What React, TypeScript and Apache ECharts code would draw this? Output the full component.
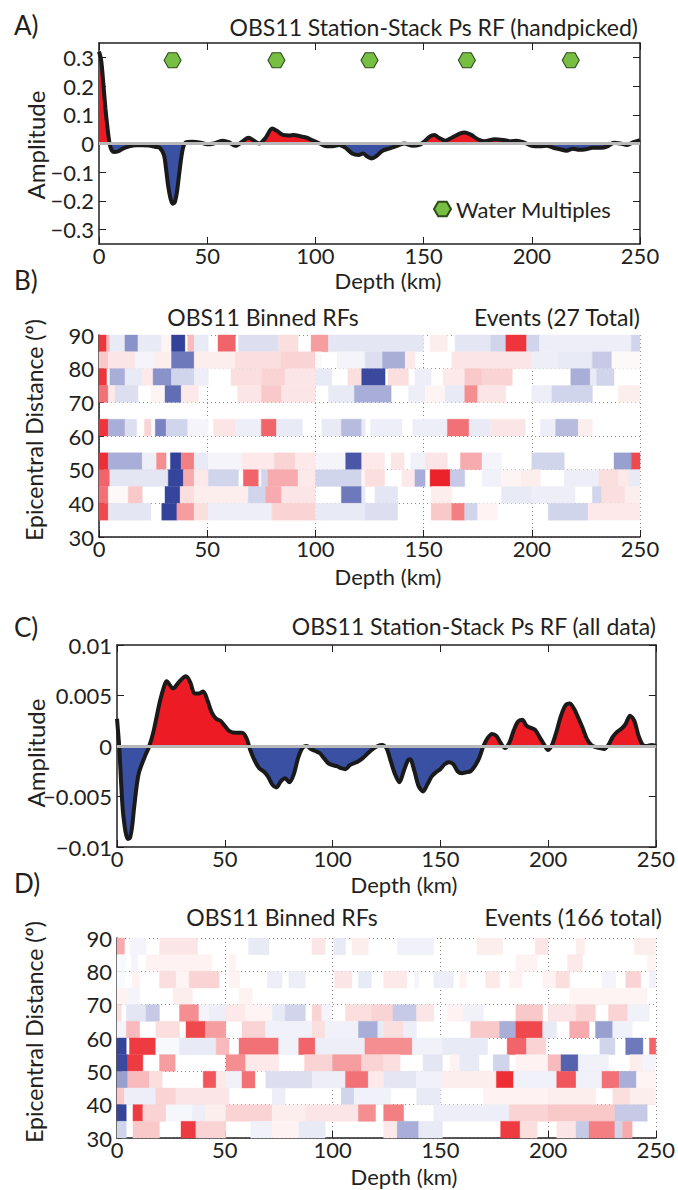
import React, { useEffect, useRef } from "react";
import * as echarts from "echarts";

const FONT = "Lato, 'Open Sans', sans-serif";
const TXT = "#231f20";
const RED = "#ed1c24";
const BLUE = "#3a50a2";

// ---------- Panel A: station stack (handpicked) ----------
const aDepth = [0, 1, 2, 3, 4, 5, 6, 7, 9, 11, 14, 17, 20, 23, 26, 28, 30, 31, 32, 33, 34, 35, 36, 37, 38, 39, 40, 43, 47, 50, 53, 57, 60, 63, 66, 69, 72, 74, 77, 80, 82, 85, 88, 90, 93, 96, 99, 102, 105, 108, 111, 114, 117, 120, 122, 124, 126, 128, 131, 134, 137, 141, 145, 148, 150, 153, 155, 157, 160, 163, 167, 169, 172, 175, 178, 183, 187, 190, 193, 196, 200, 204, 207, 210, 213, 216, 219, 222, 225, 228, 232, 235, 238, 241, 244, 247, 250];
const aAmp = [0.32, 0.29, 0.21, 0.12, 0.05, -0.005, -0.025, -0.03, -0.027, -0.018, -0.01, -0.006, -0.006, -0.007, -0.012, -0.015, -0.04, -0.09, -0.15, -0.19, -0.21, -0.205, -0.17, -0.11, -0.05, -0.01, 0.003, 0.006, 0.003, -0.003, 0.0, 0.01, 0.005, -0.008, 0.005, 0.02, 0.008, 0.0, 0.02, 0.052, 0.045, 0.03, 0.028, 0.03, 0.025, 0.02, 0.01, 0.0, -0.01, -0.01, -0.005, -0.015, -0.035, -0.04, -0.035, -0.045, -0.052, -0.045, -0.025, -0.018, -0.01, 0.0, -0.008, -0.005, 0.005, 0.025, 0.03, 0.02, 0.01, 0.02, 0.035, 0.038, 0.03, 0.015, 0.008, 0.015, 0.012, 0.008, 0.01, 0.005, -0.008, -0.01, -0.008, -0.015, -0.02, -0.025, -0.018, -0.022, -0.02, -0.015, -0.015, -0.01, 0.003, 0.0, -0.005, 0.005, 0.012];
const aTicks = [-0.3, -0.2, -0.1, 0, 0.1, 0.2, 0.3];
const multipleDepths = [34, 82, 125, 170, 218];
const multipleAmp = 0.29;

// ---------- Panel C: station stack (all data) ----------
const cDepth = [0, 1, 2, 3, 5, 6, 7, 8, 10, 13, 15, 17, 20, 22, 23, 26, 29, 32, 34, 36, 38, 40, 42, 44, 46, 48, 50, 52, 55, 58, 60, 62, 64, 66, 68, 70, 72, 74, 76, 78, 80, 82, 84, 86, 88, 90, 92, 94, 96, 98, 100, 102, 104, 106, 108, 110, 112, 114, 116, 118, 121, 123, 125, 127, 129, 131, 133, 135, 136, 138, 140, 142, 144, 146, 148, 150, 152, 154, 156, 158, 160, 162, 164, 166, 168, 170, 172, 174, 176, 178, 180, 182, 184, 186, 188, 190, 192, 194, 196, 198, 200, 202, 204, 206, 208, 210, 212, 214, 216, 218, 220, 222, 224, 226, 228, 230, 232, 234, 236, 238, 240, 242, 244, 246, 248, 250];
const cAmp = [0.0027, 0.0, -0.004, -0.007, -0.0092, -0.0091, -0.008, -0.006, -0.0028, -0.001, 0.0, 0.0015, 0.0045, 0.006, 0.0064, 0.0057, 0.0064, 0.0069, 0.0063, 0.0052, 0.0052, 0.0054, 0.0045, 0.0033, 0.0027, 0.0025, 0.002, 0.0015, 0.0013, 0.0013, 0.0008, -0.0005, -0.0015, -0.0022, -0.0025, -0.003, -0.0038, -0.0041, -0.0035, -0.0032, -0.0036, -0.0028, -0.0012, -0.0002, 0.0, -0.0003, -0.0005, -0.0007, -0.0012, -0.0017, -0.0019, -0.002, -0.0022, -0.0023, -0.0019, -0.0017, -0.0015, -0.0012, -0.0008, -0.0004, 0.0, 0.0001, -0.0002, -0.0015, -0.0028, -0.0036, -0.0025, -0.0014, -0.0013, -0.0025, -0.004, -0.0045, -0.0038, -0.003, -0.0026, -0.0023, -0.0018, -0.0016, -0.0018, -0.0025, -0.0027, -0.0026, -0.0025, -0.002, -0.0012, 0.0, 0.0008, 0.0012, 0.001, 0.0003, -0.0002, 0.0003, 0.0015, 0.0024, 0.0026, 0.002, 0.0018, 0.0016, 0.0009, 0.0002, -0.0004, 0.0002, 0.0015, 0.003, 0.004, 0.0042, 0.0037, 0.0028, 0.0018, 0.0007, 0.0001, -0.0001, -0.0002, -0.0003, 0.0001, 0.0009, 0.0014, 0.0017, 0.0022, 0.003, 0.0025, 0.001, 0.0001, 0.0, 0.0001, 0.0];
const cTicks = [-0.01, -0.005, 0, 0.005, 0.01];

// ---------- Panel B: binned RFs (27 events); rows = [start depth km, amplitude] ----------
const bRow85 = [[0, 0.8], [3.5, 0.3], [5, -0.1], [12, -0.45], [18, -0.1], [29, 0.05], [33.5, -0.9], [39.7, 0], [41, 0.3], [44, -0.1], [50.5, 0], [55, 0.6], [63, 0], [64.5, -0.15], [83, 0.15], [92, 0], [98, 0.4], [106, -0.12], [150, 0], [153, 0.08], [161, 0], [164.5, -0.12], [181, -0.2], [188, 0.8], [197.6, -0.2], [203.5, -0.08], [246, -0.2]];
const bRow80 = [[0, 0.25], [4.3, 0.12], [16.6, -0.05], [26, 0.08], [33.5, -0.55], [44, 0.08], [63, 0.15], [84, 0.2], [100, 0.03], [103, 0], [110, -0.05], [123, -0.15], [131, -0.35], [141.5, 0.1], [146, 0], [163, 0.12], [200, -0.08], [212, -0.1], [228, -0.25], [237, 0.03]];
const bRow75 = [[0, 0.8], [3.5, 0], [5, -0.35], [12, -0.1], [20, 0.1], [25, -0.45], [33.5, -0.2], [44, -0.08], [50.5, 0], [61, 0.15], [75, 0.2], [86, 0.12], [100, -0.1], [107.6, 0], [115, 0.15], [121.4, -0.8], [132.2, 0], [133.5, 0.15], [143, 0], [146, -0.08], [153.5, 0], [159, 0.1], [169, 0.25], [177, 0.2], [191, 0], [218, -0.35], [227, -0.1], [230, -0.2], [238, 0]];
const bRow70 = [[0, 0.55], [4.3, 0.1], [7.4, -0.15], [18, 0], [24, 0.05], [30.5, -0.6], [38, 0.1], [46, 0], [64, 0.12], [75, 0.25], [84.4, 0.12], [100, 0], [106, -0.1], [118, -0.35], [135, 0], [143, -0.08], [150.7, 0.05], [160, -0.1], [169, 0.45], [175, 0.12], [188, 0], [200, -0.08], [209.3, -0.2], [228, 0], [240, 0.08]];
const bRow60 = [[0, 0.8], [4.3, -0.35], [12, -0.15], [17.4, 0], [21, 0.2], [24, 0], [26, -0.5], [31, -0.2], [41, -0.05], [50.5, 0], [53, 0.12], [63, -0.08], [75, 0.6], [82, -0.1], [94, 0], [103, -0.1], [112, -0.3], [121.4, -0.1], [123, 0], [125.5, -0.08], [140, 0], [145, -0.08], [161, 0.55], [171, -0.1], [181, 0.12], [197, 0], [204, -0.08], [211, -0.3], [221.5, 0.08], [228, 0]];
const bRow50 = [[0, 0.85], [4.3, -0.35], [20, -0.08], [26.6, 0.45], [31, 0], [33, -0.9], [38, 0.5], [44, -0.1], [50.5, -0.05], [66, 0.1], [81, 0.2], [90.6, 0.1], [100, -0.05], [114, -0.7], [121.4, 0.1], [132, 0], [135, 0.12], [141, 0], [144, -0.06], [150.7, 0.12], [161, 0], [167, 0.35], [177, -0.05], [186, 0], [200, -0.2], [215, 0], [238, -0.4], [246, 0.7]];
const bRow45 = [[0, 0.6], [5, -0.12], [32, -0.85], [39, 0.35], [44, 0.1], [50.5, -0.2], [64.4, 0], [66.7, 0.6], [73.6, 0], [75, -0.2], [78, 0.35], [92, 0.1], [100, -0.2], [121.4, 0.05], [123, 0.15], [132, 0], [140, 0.1], [146, -0.35], [150.7, 0], [153, 0.95], [162.3, -0.25], [169, 0], [177, -0.06], [186, 0.05], [195, 0.08], [204, 0], [215, -0.08], [231, 0.15], [240, 0.1], [245, -0.1]];
const bRow40 = [[0, 0.55], [4.3, 0.03], [13.5, 0.25], [20, 0], [30.5, -0.85], [37.5, 0.15], [44, 0.08], [69, -0.2], [77, 0.35], [84.4, 0.12], [100, 0], [112, -0.55], [121.4, -0.1], [123, 0], [127.5, -0.12], [138, 0], [153.5, 0.08], [163, 0], [186, -0.1], [200, -0.08], [220, 0], [228, -0.2], [232.3, 0.15], [243, 0.08]];
const bRow35 = [[0, 0.7], [4.3, -0.12], [24, 0], [29, -0.9], [36, 0.4], [44, 0.15], [50.5, -0.08], [80, 0.2], [100, -0.1], [123, -0.15], [138, 0], [153.5, 0.25], [163, 0.5], [169, -0.2], [175, 0.05], [184.3, 0], [207.6, -0.2], [226, 0.1]];
const bRowStarts = [85, 80, 75, 70, 60, 50, 45, 40, 35];
const bRows = [bRow85, bRow80, bRow75, bRow70, bRow60, bRow50, bRow45, bRow40, bRow35];

// ---------- Panel D: binned RFs (166 events) ----------
const dRow85 = [[0, 0.35], [3.5, 0], [6, -0.05], [13.5, 0], [19.7, 0.12], [37.4, 0], [61, -0.1], [70.5, 0], [90.5, 0.12], [96.6, 0], [100.5, -0.1], [106, 0], [109, 0.08], [116.6, 0], [130, -0.06], [147, 0], [167, 0.08], [179, 0], [194, 0.12], [200, 0], [213, 0.08], [217, 0], [240, 0.08]];
const dRow80 = [[0, -0.03], [4.3, 0], [6.6, -0.05], [9.7, 0], [13.5, 0.06], [44, 0], [52, 0.06], [55, 0], [185, 0.06], [195, 0], [209, 0.1], [216, 0], [246, 0.05]];
const dRow75 = [[0, -0.03], [3.5, 0], [7, 0.06], [10.5, 0], [19.7, 0.15], [27.4, 0.05], [33.5, 0.2], [47.4, 0], [52, 0.06], [57, 0], [69.7, -0.08], [76.6, 0], [79.7, -0.08], [87.4, 0], [101, 0.12], [109, 0], [112, -0.1], [118, 0], [123.7, 0.1], [134.5, 0], [138, -0.05], [140, 0], [147, -0.08], [156, 0], [159, 0.06], [162, 0], [171, 0.1], [177.5, 0], [182, 0.06], [188, 0], [197.5, 0.06], [203.7, 0.15], [210, 0], [225, -0.05], [231.4, 0], [236, 0.2], [243, 0], [247, -0.06]];
const dRow70 = [[0, 0.06], [5, -0.05], [10.5, 0], [26, 0.08], [35, 0], [56.6, 0.06], [62.8, 0], [210, 0.05], [246, 0]];
const dRow65 = [[0, 0.15], [2, 0], [4.3, -0.12], [13.5, -0.25], [19.7, 0], [29, 0.45], [38, -0.05], [42.8, -0.08], [50.5, 0.1], [59.7, 0.05], [72, -0.1], [78, -0.2], [87.4, 0], [90.5, 0.2], [95, -0.05], [99.5, 0], [106, 0.15], [118, 0.2], [128, -0.25], [139, 0.12], [147, 0], [153, 0.06], [160.6, -0.06], [170, 0], [185, 0.25], [197.5, 0], [200, 0.12], [213, 0.2], [222, 0], [228, 0.2], [237, -0.06], [247, 0]];
const dRow60 = [[0, -0.05], [4.3, 0.3], [10.5, 0], [18, 0.15], [29, 0], [32, 0.7], [41, 0.4], [50.5, 0], [58, 0.2], [69, -0.06], [90.5, 0.15], [96.6, -0.06], [112, -0.35], [121, -0.1], [123.7, 0.15], [133, -0.08], [139, 0], [164, 0.25], [177.5, -0.35], [185, 0.7], [197.5, -0.1], [204, 0], [210, 0.35], [219, 0], [222, -0.4], [230, -0.06], [239, 0]];
const dRow55 = [[0, -0.85], [4.3, 0], [5.8, 0.75], [18, -0.03], [29, -0.1], [46, 0.3], [52, 0], [56.6, 0.55], [75, -0.06], [84.3, 0.6], [92, -0.08], [115, 0.45], [137, -0.06], [151, -0.1], [172, 0], [181, 0.6], [190, 0.2], [199, 0], [224, -0.2], [231, 0], [236, -0.55], [244, 0], [247, 0.6]];
const dRow50 = [[0, -0.8], [5, 0.75], [12, 0], [19.7, 0.4], [27, 0], [50.5, 0.45], [59.7, 0.1], [75, 0], [87, 0.2], [100, 0.4], [113.5, 0.2], [123.7, 0.15], [131.4, 0], [142, -0.12], [151, 0], [154.5, 0.06], [159, -0.1], [168, 0], [174.5, -0.2], [182, 0], [185, 0.06], [200, 0.3], [206, -0.65], [214, -0.06], [228, 0], [238, 0.08], [244, -0.05]];
const dRow45 = [[0, -0.4], [5, 0.3], [15, 0.15], [21, 0], [40, 0.65], [46, 0.1], [50.5, -0.06], [58, 0.55], [64, 0], [69, -0.15], [90.5, -0.08], [106, 0.55], [116.6, 0.1], [123.7, -0.12], [139, -0.06], [151, 0.08], [176, 0.85], [184, -0.06], [204, 0.65], [213, -0.06], [225, 0.55], [233, -0.35], [241, 0.05]];
const dRow40 = [[0, 0.25], [3.5, -0.08], [18, 0.2], [27.4, 0.12], [52, 0], [72, -0.08], [78, 0], [104, -0.2], [110, -0.06], [127, 0], [139, -0.1], [150, 0], [170, 0.06], [200, 0.08], [222, 0], [230, 0.15], [238, 0.08]];
const dRow35 = [[0, -0.85], [4.3, 0], [7.4, 0.75], [12, 0.2], [22.8, -0.04], [35, -0.08], [41, 0.08], [50.5, 0.2], [72, 0.08], [87.4, 0.12], [112, 0.45], [120, 0], [123.7, 0.5], [133, 0], [147, -0.08], [182, 0.2], [200, 0.25], [231, -0.25], [246, 0]];
const dRow30 = [[0, -0.2], [4.3, 0], [7.4, 0.25], [19.7, 0], [29.7, 0.75], [36.6, 0.2], [50.5, 0], [62, -0.06], [72, 0.06], [84.3, -0.1], [96.6, 0], [123.7, 0.1], [130, -0.35], [140, -0.1], [151, 0], [178, 0.75], [187, 0.15], [195, 0], [204, 0.12], [213, -0.25], [219, 0.5], [231, -0.2], [234.5, 0.35], [239, 0]];
const dRowStarts = [85, 80, 75, 70, 65, 60, 55, 50, 45, 40, 35, 30];
const dRows = [dRow85, dRow80, dRow75, dRow70, dRow65, dRow60, dRow55, dRow50, dRow45, dRow40, dRow35, dRow30];

const HEX = "path://M0,5 L2.5,0.67 L7.5,0.67 L10,5 L7.5,9.33 L2.5,9.33 Z";

function zip(xs: number[], ys: number[]) {
  return xs.map((x, i) => [x, ys[i]]);
}

function heatData(starts: number[], rows: number[][][]) {
  const out: number[][] = [];
  rows.forEach((segs, r) => {
    segs.forEach((s, i) => {
      const end = i < segs.length - 1 ? segs[i + 1][0] : 250;
      if (s[1] !== 0) out.push([s[0], end, starts[r], s[1]]);
    });
  });
  return out;
}

const fmtMinus = (v: number, digits?: number) => {
  if (Math.abs(v) < 1e-12) return "0";
  const s = digits !== undefined ? Math.abs(v).toFixed(digits) : String(Math.abs(v));
  return (v < 0 ? "\u2212" : "") + s;
};

const labelStyle = { color: TXT, fontFamily: FONT, fontSize: 22, lineHeight: 18 };
const solidLine = { show: true, onZero: false, lineStyle: { color: TXT, width: 1.5 } };
const inTick = { show: true, inside: true, length: 7, lineStyle: { color: TXT, width: 1 } };
const dotted = { show: true, lineStyle: { color: "#8a8a8a", width: 1, type: [1, 3] as any } };

function depthAxis(grid: number, split: boolean) {
  return {
    type: "value", gridIndex: grid, min: 0, max: 250, interval: 50, position: "bottom",
    axisLine: solidLine, axisTick: inTick,
    axisLabel: { ...labelStyle, margin: 2 },
    splitLine: split ? dotted : { show: false },
  };
}
function topAxis(grid: number) {
  return {
    type: "value", gridIndex: grid, min: 0, max: 250, interval: 50, position: "top",
    axisLine: solidLine, axisTick: inTick, axisLabel: { show: false }, splitLine: { show: false },
  };
}
function ampAxis(grid: number, lim: number, ticks: number[], digits: number | undefined, right: boolean) {
  return {
    type: "value", gridIndex: grid, min: -lim, max: lim, position: right ? "right" : "left",
    axisLine: solidLine,
    axisTick: { ...inTick, customValues: ticks },
    axisLabel: right ? { show: false } : { ...labelStyle, margin: 5, customValues: ticks, formatter: (v: number) => fmtMinus(v, digits) },
    splitLine: { show: false },
  };
}
function distAxis(grid: number) {
  return {
    type: "value", gridIndex: grid, min: 30, max: 90, interval: 10, position: "left",
    axisLine: solidLine, axisTick: { ...inTick, length: 5 },
    axisLabel: { ...labelStyle, margin: 5 },
    splitLine: dotted,
  };
}

function txt(x: number, y: number, text: string, size: number, align: string, rot = 0) {
  return {
    type: "text", x, y, rotation: rot, silent: true,
    style: { text, fontFamily: FONT, fontSize: size, lineHeight: Math.round(size * 0.9), fill: TXT, align, verticalAlign: "middle" },
  };
}

function heatSeries(xi: number, yi: number, data: number[][]) {
  return {
    type: "custom", xAxisIndex: xi, yAxisIndex: yi, data,
    encode: { x: [0, 1], y: 2 },
    renderItem: (params: any, api: any) => {
      const p0 = api.coord([api.value(0), api.value(2) + 5]);
      const p1 = api.coord([api.value(1), api.value(2)]);
      const c = api.visual("color");
      return {
        type: "rect",
        shape: { x: p0[0], y: p0[1], width: p1[0] - p0[0], height: p1[1] - p0[1] },
        style: { fill: c, stroke: c, lineWidth: 0.4 },
      };
    },
    z: 1,
  };
}

export default function App() {
  const ref = useRef<HTMLDivElement>(null);
  useEffect(() => {
    if (!ref.current) return;
    const chart = echarts.init(ref.current, undefined, { renderer: "svg" });
    const aData = zip(aDepth, aAmp);
    const cData = zip(cDepth, cAmp);
    const zeroMark = {
      silent: true, symbol: "none", label: { show: false },
      lineStyle: { color: "#b8b8b8", width: 3, type: "solid" },
      data: [{ yAxis: 0 }],
    };
    chart.setOption({
      animation: false,
      backgroundColor: "#ffffff",
      grid: [
        { left: 99, top: 43, width: 541, height: 201 },
        { left: 99, top: 335, width: 541, height: 202 },
        { left: 117, top: 645, width: 542, height: 202 },
        { left: 117, top: 938, width: 542, height: 200 },
      ],
      xAxis: [
        depthAxis(0, false), topAxis(0),
        depthAxis(1, true),
        depthAxis(2, false), topAxis(2),
        depthAxis(3, true),
      ],
      yAxis: [
        ampAxis(0, 0.35, aTicks, 1, false), ampAxis(0, 0.35, aTicks, 1, true),
        distAxis(1),
        ampAxis(2, 0.01, cTicks, undefined, false), ampAxis(2, 0.01, cTicks, undefined, true),
        distAxis(3),
      ],
      visualMap: [
        {
          type: "piecewise", show: false, seriesIndex: [0, 4], dimension: 1,
          pieces: [{ gte: -10, lt: 0, color: BLUE }, { gte: 0, lte: 10, color: RED }],
        },
        {
          type: "continuous", show: false, seriesIndex: [3, 6], dimension: 3,
          min: -1, max: 1,
          inRange: {
            color: ["#2b3a96", "#3e4ca0", "#7a84c2", "#c6cae6", "#ffffff", "#f9c9ca", "#f37f83", "#ee3b41", "#ec1c24"],
          },
        },
      ],
      legend: {
        data: [{ name: "Water Multiples", icon: HEX }],
        left: 433, top: 198, padding: 0, itemWidth: 17, itemHeight: 15,
        selectedMode: false,
        textStyle: { fontFamily: FONT, fontSize: 22, color: TXT },
      },
      series: [
        {
          type: "line", xAxisIndex: 0, yAxisIndex: 0, data: aData, symbol: "none", smooth: 0.3,
          lineStyle: { width: 0 }, areaStyle: { opacity: 1 }, z: 2, markLine: zeroMark,
        },
        {
          type: "line", xAxisIndex: 0, yAxisIndex: 0, data: aData, symbol: "none", smooth: 0.3,
          lineStyle: { color: "#1a1a1a", width: 4 }, itemStyle: { color: "#1a1a1a" }, z: 4,
        },
        {
          type: "scatter", name: "Water Multiples", xAxisIndex: 0, yAxisIndex: 0,
          data: multipleDepths.map((d) => [d, multipleAmp]),
          symbol: HEX, symbolSize: [17, 15],
          itemStyle: { color: "#77bf43", borderColor: "#2e4a1c", borderWidth: 1, opacity: 1 },
          z: 5,
        },
        heatSeries(2, 2, heatData(bRowStarts, bRows)),
        {
          type: "line", xAxisIndex: 3, yAxisIndex: 3, data: cData, symbol: "none", smooth: 0.3,
          lineStyle: { width: 0 }, areaStyle: { opacity: 1 }, z: 2, markLine: zeroMark,
        },
        {
          type: "line", xAxisIndex: 3, yAxisIndex: 3, data: cData, symbol: "none", smooth: 0.3,
          lineStyle: { color: "#1a1a1a", width: 4 }, itemStyle: { color: "#1a1a1a" }, z: 4,
        },
        heatSeries(5, 5, heatData(dRowStarts, dRows)),
      ],
      graphic: [
        txt(14, 25, "A)", 26, "left"),
        txt(638, 27, "OBS11 Station-Stack Ps RF (handpicked)", 23, "right"),
        txt(35, 145, "Amplitude", 24, "center", Math.PI / 2),
        txt(388, 280, "Depth (km)", 22, "center"),

        txt(14, 280, "B)", 26, "left"),
        txt(263, 317, "OBS11 Binned RFs", 23, "center"),
        txt(640, 317, "Events (27 Total)", 23, "right"),
        txt(34, 430, "Epicentral Distance (\u00ba)", 23, "center", Math.PI / 2),
        txt(388, 576, "Depth (km)", 22, "center"),

        txt(14, 627, "C)", 26, "left"),
        txt(656, 626, "OBS11 Station-Stack Ps RF (all data)", 23, "right"),
        txt(35, 753, "Amplitude", 24, "center", Math.PI / 2),
        txt(404, 884, "Depth (km)", 22, "center"),

        txt(14, 883, "D)", 26, "left"),
        txt(282, 917, "OBS11 Binned RFs", 23, "center"),
        txt(662, 917, "Events (166 total)", 23, "right"),
        txt(34, 1032, "Epicentral Distance (\u00ba)", 23, "center", Math.PI / 2),
        txt(404, 1176, "Depth (km)", 22, "center"),
      ],
    });
    return () => chart.dispose();
  }, []);
  return (
    <div
      ref={ref}
      style={{ position: "fixed", left: 0, top: 0, width: 678, height: 1190, background: "#fff" }}
    />
  );
}
